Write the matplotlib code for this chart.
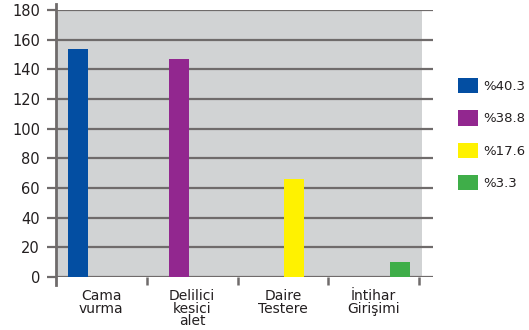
import numpy as np
import matplotlib.pyplot as plt
from matplotlib.patches import Rectangle

categories = ['Cama\nvurma', 'Delilici\nkesici\nalet', 'Daire\nTestere', 'İntihar\nGirişimi']
values = [154, 147, 66, 10]
percents = ['%40.3', '%38.8', '%17.6', '%3.3']
colors = ['#034ea2', '#92278f', '#fff200', '#3fae49']

grid_c = '#6f6b6b'
text_c = '#231f20'

fig = plt.figure(figsize=(5.29, 3.30), dpi=100)
ax = fig.add_axes([56/529, 1-277/330, (433-56)/529, 267/330])
ax.set_facecolor('none')
ax.add_patch(Rectangle((0, 0), (422-56)/(433-56), 1, transform=ax.transAxes,
                       facecolor='#d1d3d4', edgecolor='none', zorder=0))

# each category holds one series, shifted within its slot
w = 0.22
shift = [-0.26, -0.14, 0.12, 0.29]
for j in range(len(values)):
    ax.bar(j + shift[j], values[j], width=w, color=colors[j], label=percents[j], zorder=3)

ax.set_ylim(0, 180)
ax.set_xlim(-0.5, 3.5 + 14/91)
ax.set_yticks(np.arange(0, 181, 20))
ax.yaxis.grid(True, color=grid_c, linewidth=1.6, zorder=1)
ax.set_axisbelow(True)
for s in ax.spines.values():
    s.set_visible(False)
ax.plot([0, 0], [-0.03, 1.022], transform=ax.transAxes, color=grid_c,
        linewidth=2.0, clip_on=False, zorder=4)

ax.tick_params(axis='y', length=6.5, width=1.6, color=grid_c, pad=5,
               labelsize=10.5, labelcolor=text_c)
ax.set_xticks([0.5, 1.5, 2.5, 3.5])
ax.set_xticklabels([])
ax.tick_params(axis='x', which='major', length=6, width=1.8, color=grid_c)
ax.set_xticks(range(len(categories)), minor=True)
ax.set_xticklabels(categories, minor=True, fontsize=10, color=text_c,
                   linespacing=0.85, va='top')
ax.tick_params(axis='x', which='minor', length=0, pad=9)

fig.legend(loc='upper left', bbox_to_anchor=(446/529, 1-66/330), frameon=False,
           fontsize=9.5, handlelength=1.55, handleheight=1.4,
           labelspacing=1.3, handletextpad=0.35, labelcolor=text_c)

plt.savefig('out.png', dpi=100)
